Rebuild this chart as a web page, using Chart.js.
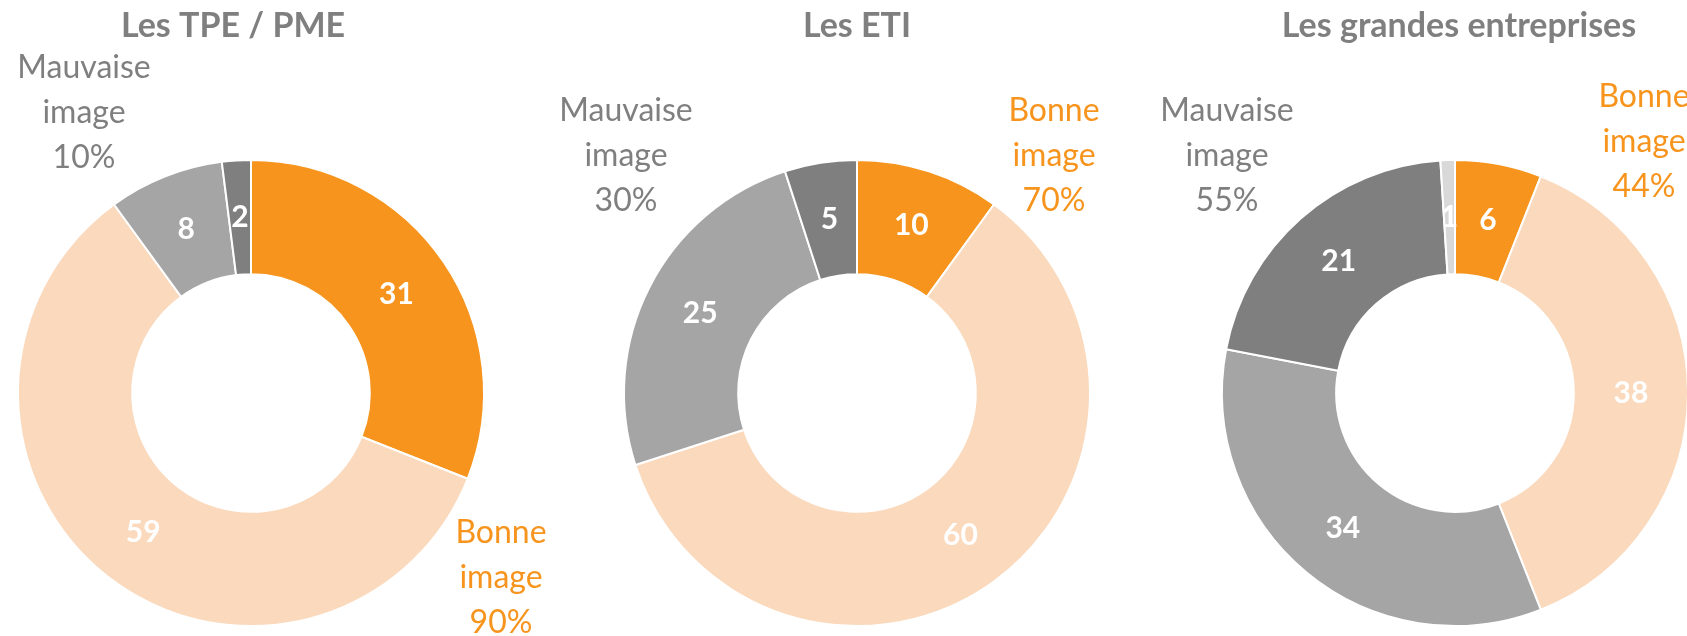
<!DOCTYPE html>
<html>
<head>
<meta charset="utf-8">
<script src="https://cdn.jsdelivr.net/npm/chart.js@4/dist/chart.umd.min.js"></script>
<style>
  html, body { margin: 0; padding: 0; background: #fff; overflow: hidden; }
  body { width: 1687px; height: 636px; position: relative; }
  .pie { position: absolute; top: 0; width: 600px; height: 636px; }
</style>
</head>
<body>
<div class="pie" id="wrap0"><canvas id="c0" width="600" height="636"></canvas></div>
<div class="pie" id="wrap1"><canvas id="c1" width="600" height="636"></canvas></div>
<div class="pie" id="wrap2"><canvas id="c2" width="600" height="636"></canvas></div>
<script>
// data
const titles = ["Les TPE / PME", "Les ETI", "Les grandes entreprises"];
const categories = ["Très bonne image", "Assez bonne image", "Assez mauvaise image", "Très mauvaise image", "Ne se prononce pas"];
const tpeValues = [31, 59, 8, 2, 0];
const etiValues = [10, 60, 25, 5, 0];
const geValues = [6, 38, 34, 21, 1];
const bonneShare = ["90%", "70%", "44%"];
const mauvaiseShare = ["10%", "30%", "55%"];

const colors = ["#F7941D", "#FAD9BC", "#A5A5A5", "#7F7F7F", "#D9D9D9"];
const ORANGE = "#F7941D";
const GREY = "#7F7F7F";
const FONT = "Lato, 'Open Sans', sans-serif";

// layout: doughnut centre x, and where the callouts sit relative to it
const R = 234, CY = 393;
const layout = [
  { cx: 251, titleDx: -18, bad: [-167, -315], good: [250, 150] },
  { cx: 857, titleDx: 0, bad: [-231, -272], good: [197, -272] },
  { cx: 1455, titleDx: 4, bad: [-228, -272], good: [189, -286] },
];

const labelsPlugin = {
  id: "sliceLabels",
  afterDatasetsDraw(chart) {
    const ctx = chart.ctx;
    const meta = chart.getDatasetMeta(0);
    const values = chart.data.datasets[0].data;
    ctx.save();
    ctx.fillStyle = "#fff";
    ctx.font = "bold 30px " + FONT;
    ctx.textAlign = "center";
    ctx.textBaseline = "middle";
    meta.data.forEach((arc, i) => {
      if (!values[i]) return;
      const p = arc.tooltipPosition();
      ctx.fillText(values[i], p.x, p.y);
    });
    ctx.restore();
  },
  afterDraw(chart) {
    const ctx = chart.ctx;
    const o = chart.options.plugins.sliceLabels;
    const meta = chart.getDatasetMeta(0);
    const cx = meta.data[0].x, cy = meta.data[0].y;
    ctx.save();
    ctx.textAlign = "center";
    ctx.textBaseline = "alphabetic";
    ctx.fillStyle = GREY;
    ctx.font = "bold 34px " + FONT;
    ctx.fillText(o.title, cx + o.titleDx, 37);
    ctx.font = "32px " + FONT;
    const block = (lines, pos, color) => {
      ctx.fillStyle = color;
      lines.forEach((t, k) => ctx.fillText(t, cx + pos[0], cy + pos[1] + k * 45));
    };
    block(["Mauvaise", "image", o.bad], o.badPos, GREY);
    block(["Bonne", "image", o.good], o.goodPos, ORANGE);
    ctx.restore();
  },
};

function makeDoughnut(idx, values) {
  const L = layout[idx];
  const wrap = document.getElementById("wrap" + idx);
  wrap.style.left = (L.cx - 300) + "px";
  return new Chart(document.getElementById("c" + idx), {
    type: "doughnut",
    data: {
      labels: categories,
      datasets: [{
        data: values,
        backgroundColor: colors,
        borderColor: "#fff",
        borderWidth: 2,
      }],
    },
    options: {
      responsive: false,
      animation: false,
      cutout: "51%",
      layout: {
        padding: { top: CY - R, bottom: 636 - CY - R, left: 300 - R, right: 300 - R },
      },
      plugins: {
        legend: { display: false },
        tooltip: { enabled: false },
        title: { display: false },
        sliceLabels: {
          title: titles[idx],
          titleDx: L.titleDx,
          bad: mauvaiseShare[idx],
          good: bonneShare[idx],
          badPos: L.bad,
          goodPos: L.good,
        },
      },
    },
    plugins: [labelsPlugin],
  });
}

makeDoughnut(0, tpeValues);
makeDoughnut(1, etiValues);
makeDoughnut(2, geValues);
</script>
</body>
</html>
